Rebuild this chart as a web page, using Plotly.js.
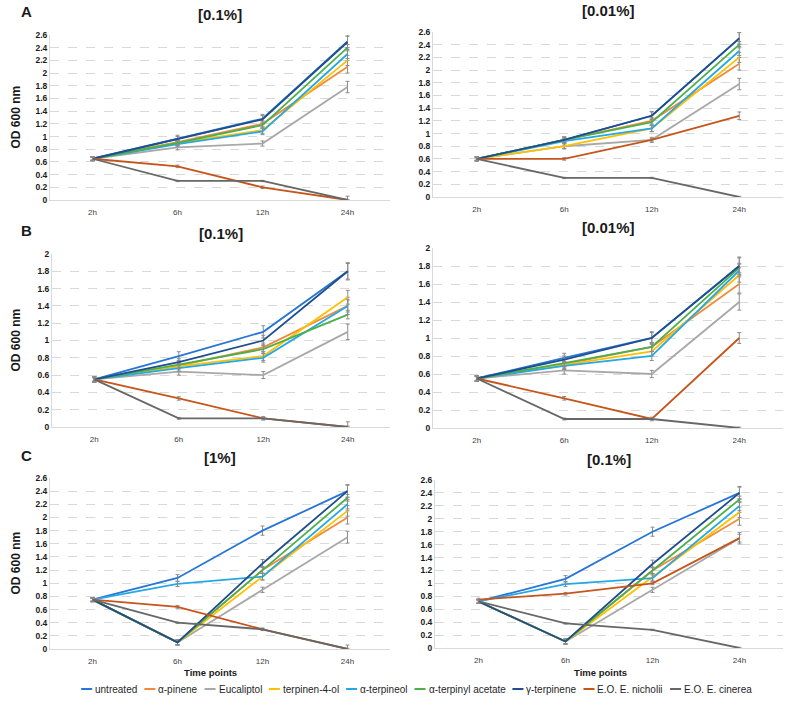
<!DOCTYPE html>
<html>
<head>
<meta charset="utf-8">
<script src="https://cdn.plot.ly/plotly-3.0.1.min.js"></script>
<style>html,body{margin:0;padding:0;background:#fff;}#chart{width:792px;height:706px;}</style>
</head>
<body>
<div id="chart"></div>
<script>
// ---------- DATA ----------
const timePoints = ['2h', '6h', '12h', '24h'];
const seriesNames = ['untreated', 'α-pinene', 'Eucaliptol', 'terpinen-4-ol', 'α-terpineol',
  'α-terpinyl acetate', 'γ-terpinene', 'E.O. E. nicholii', 'E.O. E. cinerea'];

// rows follow seriesNames order
const panelA_01 = [
  [0.65, 0.97, 1.28, 2.50],
  [0.65, 0.91, 1.20, 2.10],
  [0.65, 0.83, 0.89, 1.78],
  [0.65, 0.90, 1.10, 2.20],
  [0.65, 0.88, 1.08, 2.30],
  [0.65, 0.90, 1.18, 2.40],
  [0.65, 0.96, 1.27, 2.49],
  [0.65, 0.53, 0.20, 0.00],
  [0.65, 0.30, 0.30, 0.00]
];
const panelA_001 = [
  [0.60, 0.90, 1.28, 2.50],
  [0.60, 0.90, 1.20, 2.10],
  [0.60, 0.80, 0.90, 1.78],
  [0.60, 0.80, 1.08, 2.20],
  [0.60, 0.88, 1.08, 2.30],
  [0.60, 0.90, 1.18, 2.40],
  [0.60, 0.90, 1.28, 2.50],
  [0.60, 0.60, 0.90, 1.28],
  [0.60, 0.30, 0.30, 0.00]
];
const panelB_01 = [
  [0.55, 0.82, 1.10, 1.80],
  [0.55, 0.71, 0.92, 1.40],
  [0.55, 0.64, 0.60, 1.10],
  [0.55, 0.70, 0.82, 1.50],
  [0.55, 0.68, 0.80, 1.40],
  [0.55, 0.72, 0.90, 1.30],
  [0.55, 0.75, 1.00, 1.80],
  [0.55, 0.33, 0.10, 0.00],
  [0.55, 0.10, 0.10, 0.00]
];
const panelB_001 = [
  [0.55, 0.78, 1.00, 1.80],
  [0.55, 0.71, 0.90, 1.60],
  [0.55, 0.64, 0.60, 1.40],
  [0.55, 0.70, 0.85, 1.70],
  [0.55, 0.69, 0.80, 1.75],
  [0.55, 0.72, 0.90, 1.78],
  [0.55, 0.76, 1.00, 1.80],
  [0.55, 0.33, 0.10, 1.00],
  [0.55, 0.10, 0.10, 0.00]
];
const panelC_1 = [
  [0.75, 1.08, 1.80, 2.40],
  [0.75, 0.10, 1.20, 2.00],
  [0.75, 0.10, 0.90, 1.70],
  [0.75, 0.10, 1.10, 2.10],
  [0.75, 0.99, 1.10, 2.20],
  [0.75, 0.10, 1.20, 2.30],
  [0.75, 0.10, 1.30, 2.40],
  [0.75, 0.64, 0.30, 0.00],
  [0.75, 0.40, 0.30, 0.00]
];
const panelC_01 = [
  [0.72, 1.07, 1.80, 2.40],
  [0.72, 0.10, 1.20, 2.00],
  [0.72, 0.10, 0.90, 1.70],
  [0.72, 0.10, 1.10, 2.10],
  [0.72, 0.99, 1.08, 2.20],
  [0.72, 0.10, 1.20, 2.30],
  [0.72, 0.10, 1.30, 2.40],
  [0.75, 0.84, 1.00, 1.70],
  [0.72, 0.38, 0.28, 0.00]
];
// standard deviations (same series order)
const errorBars = [
  [0.03, 0.05, 0.07, 0.10],
  [0.03, 0.03, 0.05, 0.10],
  [0.03, 0.04, 0.04, 0.09],
  [0.03, 0.04, 0.05, 0.08],
  [0.03, 0.04, 0.05, 0.07],
  [0.03, 0.04, 0.05, 0.05],
  [0.03, 0.04, 0.06, 0.09],
  [0.02, 0.02, 0.02, 0.06],
  [0.02, 0.01, 0.01, 0.01]
];
const panelTitles = ['[0.1%]', '[0.01%]', '[0.1%]', '[0.01%]', '[1%]', '[0.1%]'];
const panelLetters = ['A', 'B', 'C'];
const yMax = [2.6, 2.6, 2, 2, 2.6, 2.6];

// ---------- STYLE / LAYOUT ----------
const colors = ['#2775D6', '#F28A3C', '#A8A8A8', '#FFC000', '#25A8E6', '#4CAF4C', '#1F4E8C', '#C5551A', '#676767'];
const panels = [panelA_01, panelA_001, panelB_01, panelB_001, panelC_1, panelC_01];
const W = 792, H = 706;
// pixel boxes [left, right, top, bottom]
const boxes = [
  [50, 390, 35, 200], [433, 783, 32, 197],
  [52, 390, 254, 427], [433, 783, 248, 428],
  [50, 390, 478, 649], [435, 783, 480, 648]
];
const FONT = 'Liberation Sans, Arial, sans-serif';

const traces = [];
const layout = {
  width: W, height: H, margin: {l: 0, r: 0, t: 0, b: 0},
  paper_bgcolor: '#fff', plot_bgcolor: '#fff',
  showlegend: false,
  annotations: [], shapes: []
};

panels.forEach((pdata, p) => {
  const ax = p === 0 ? '' : String(p + 1);
  const [l, r, t, b] = boxes[p];
  layout['xaxis' + ax] = {
    domain: [l / W, r / W], anchor: 'y' + ax, type: 'category',
    range: [-0.5, 3.5], showgrid: false, showline: true, linecolor: '#d9d9d9', linewidth: 1,
    ticks: '', ticklabelstandoff: 4, tickfont: {family: FONT, size: 8, color: '#404040'},
    zeroline: false, fixedrange: true
  };
  layout['yaxis' + ax] = {
    domain: [1 - b / H, 1 - t / H], anchor: 'x' + ax,
    range: [0, yMax[p]], dtick: 0.2, tick0: 0, showgrid: true, gridcolor: '#d9d9d9', griddash: 'dash',
    gridwidth: 1, showline: true, linecolor: '#d9d9d9', zeroline: false, ticks: '',
    tickfont: {family: FONT, size: 8.5, color: '#1a1a1a', weight: 'bold'}, fixedrange: true
  };
  pdata.forEach((vals, s) => {
    traces.push({
      type: 'scatter', mode: 'lines', x: timePoints, y: vals,
      name: seriesNames[s], legendgroup: seriesNames[s], showlegend: false,
      xaxis: 'x' + ax, yaxis: 'y' + ax,
      line: {color: colors[s], width: 1.8},
      error_y: {type: 'data', array: errorBars[s], visible: true, color: '#8c8c8c', thickness: 1, width: 2},
      cliponaxis: false
    });
  });
  layout.annotations.push({
    text: panelTitles[p], xref: 'paper', yref: 'paper', x: (l + r) / 2 / W,
    y: 1 - (t - 21) / H, xanchor: 'center', yanchor: 'middle', showarrow: false,
    font: {family: FONT, size: 15, color: '#1a1a1a', weight: 'bold'}
  });
  if (p % 2 === 0) {
    layout.annotations.push({
      text: 'OD 600 nm', xref: 'paper', yref: 'paper', x: 15 / W, y: 1 - (t + b) / 2 / H,
      textangle: -90, xanchor: 'center', yanchor: 'middle', showarrow: false,
      font: {family: FONT, size: 12, color: '#1a1a1a', weight: 'bold'}
    });
    layout.annotations.push({
      text: panelLetters[p / 2], xref: 'paper', yref: 'paper', x: 27 / W, y: 1 - (t - 23) / H,
      xanchor: 'center', yanchor: 'middle', showarrow: false,
      font: {family: FONT, size: 15, color: '#1a1a1a', weight: 'bold'}
    });
  }
});
[210, 600].forEach(cx => {
  layout.annotations.push({
    text: 'Time points', xref: 'paper', yref: 'paper', x: cx / W, y: 1 - 672 / H,
    xanchor: 'center', yanchor: 'middle', showarrow: false,
    font: {family: FONT, size: 9.5, color: '#1a1a1a', weight: 'bold'}
  });
});

// ---------- LEGEND (single compact row: short line + label) ----------
const legSize = 10, legY = 689, legCenter = 416, lineLen = 11, lineGap = 2, itemGap = 8;
const ctx = document.createElement('canvas').getContext('2d');
ctx.font = legSize + 'px "Liberation Sans", Arial, sans-serif';
const textW = seriesNames.map(n => ctx.measureText(n).width);
const totalW = textW.reduce((a, w) => a + w, 0) + seriesNames.length * (lineLen + lineGap) + (seriesNames.length - 1) * itemGap;
let xc = legCenter - totalW / 2;
seriesNames.forEach((n, s) => {
  layout.shapes.push({
    type: 'line', xref: 'paper', yref: 'paper',
    x0: xc / W, x1: (xc + lineLen) / W, y0: 1 - legY / H, y1: 1 - legY / H,
    line: {color: colors[s], width: 2}
  });
  layout.annotations.push({
    text: n, xref: 'paper', yref: 'paper', x: (xc + lineLen + lineGap) / W, y: 1 - legY / H,
    xanchor: 'left', yanchor: 'middle', showarrow: false, borderpad: 0,
    font: {family: FONT, size: legSize, color: '#1f1f1f'}
  });
  xc += lineLen + lineGap + textW[s] + itemGap;
});

Plotly.newPlot('chart', traces, layout, {displayModeBar: false, staticPlot: true});
</script>
</body>
</html>
